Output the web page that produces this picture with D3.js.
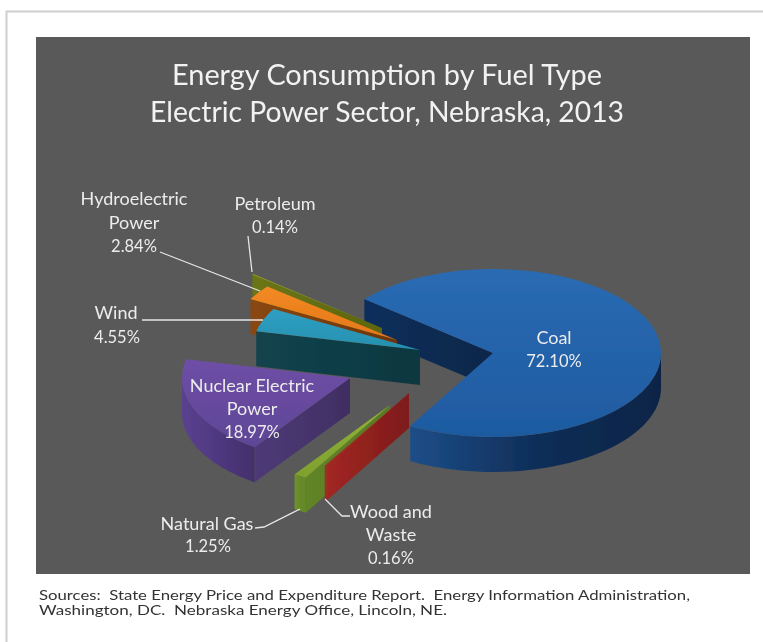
<!DOCTYPE html>
<html>
<head>
<meta charset="utf-8">
<script src="https://cdn.jsdelivr.net/npm/d3@7"></script>
<style>
  body { margin: 0; background: #fff; }
  text { font-family: Lato, "Open Sans", sans-serif; white-space: pre; }
</style>
</head>
<body>
<svg id="chart" width="763" height="642"></svg>
<script>
// data
const categories = ["Coal", "Wood and Waste", "Natural Gas", "Nuclear Electric Power", "Wind", "Hydroelectric Power", "Petroleum"];
const shares = [72.10, 0.16, 1.25, 18.97, 4.55, 2.84, 0.14];
const shareLabels = ["72.10%", "0.16%", "1.25%", "18.97%", "4.55%", "2.84%", "0.14%"];
const titleLines = ["Energy Consumption by Fuel Type", "Electric Power Sector, Nebraska, 2013"];
const sourceLines = [
  "Sources:  State Energy Price and Expenditure Report.  Energy Information Administration,",
  "Washington, DC.  Nebraska Energy Office, Lincoln, NE."
];

// layout of the fake 3d pie
const radius = 168, tilt = 0.5, depth = 35;
const pieX = 420, pieY = 360;
const firstAngle = -50 * Math.PI / 180;
// the picture doesn't explode the slices evenly, so each one has its own shift
const explodeX = [73, -11, -30, -70, 0, -23, -38];
const explodeY = [-7, 33, 45, 18, -10, -20, -32];
const topColors = [["#2a6bb3", "#1e5aa0"], ["#b32a25", "#a02622"], ["#8fb436", "#7fa02e"], ["#6e4fa6", "#5f4596"], ["#2f9fc4", "#2690ae"], ["#f28a22", "#e5761a"], ["#9aa822", "#87951f"]];
const wallColors = [["#1d4e88", "#0f2e58", "#0c2446"], ["#a52a24", "#a52a24", "#a52a24"], ["#6f942c", "#66892a", "#66892a"], ["#5a4190", "#4f3880", "#432f6a"], ["#123f48", "#123f48", "#123f48"], ["#7d3f0f", "#7d3f0f", "#7d3f0f"], ["#6b7514", "#6b7514", "#6b7514"]];
const faceColors = [["#0f2f5c", "#0c2749"], ["#a32622", "#7d1b1b"], ["#618428", "#587a24"], ["#4e3a78", "#3f2e62"], ["#12434d", "#0f3740"], ["#8a4712", "#6d350c"], ["#6b7514", "#5d6610"]];

const svg = d3.select("#chart");
const defs = svg.append("defs");
defs.append("filter").attr("id", "soft")
  .append("feGaussianBlur").attr("stdDeviation", 0.5);

// page frame and panel
svg.append("path").attr("d", "M763,11.5H6.5V642").attr("fill", "none").attr("stroke", "#cfcfcf").attr("stroke-width", 2);
svg.append("rect").attr("x", 36).attr("y", 37).attr("width", 714).attr("height", 537).attr("fill", "#595959");

const pie = d3.pie().sort(null).value(d => d).startAngle(firstAngle).endAngle(firstAngle + 2 * Math.PI);
const slices = pie(shares);
const topArc = d3.arc().innerRadius(0).outerRadius(radius);
const line = d3.line();
const pieLayer = svg.append("g").attr("filter", "url(#soft)");

function gradient(id, stops, horizontal) {
  const g = defs.append("linearGradient").attr("id", id)
    .attr("x1", 0).attr("y1", 0)
    .attr("x2", horizontal ? 1 : 0).attr("y2", horizontal ? 0 : 1);
  stops.forEach((c, i) => g.append("stop").attr("offset", i / (stops.length - 1)).attr("stop-color", c));
  return "url(#" + id + ")";
}

function rimPoint(i, angle, z) {
  return [pieX + explodeX[i] + radius * Math.sin(angle), pieY + explodeY[i] - radius * tilt * Math.cos(angle) + z];
}

function drawSlice(i) {
  const s = slices[i];
  const g = pieLayer.append("g").attr("class", "slice");
  const apexX = pieX + explodeX[i], apexY = pieY + explodeY[i];

  // cut face at the start angle, faces the viewer for every slice here
  const sp = rimPoint(i, s.startAngle, 0);
  g.append("path")
    .attr("d", line([[apexX, apexY], sp, [sp[0], sp[1] + depth], [apexX, apexY + depth]]) + "Z")
    .attr("fill", gradient("face" + i, faceColors[i], true));

  // outer wall, only the part turned toward the viewer
  const from = Math.max(s.startAngle, Math.PI / 2), to = Math.min(s.endAngle, 1.5 * Math.PI);
  if (to > from) {
    const steps = d3.range(0, 41).map(k => from + (to - from) * k / 40);
    const upper = steps.map(a => rimPoint(i, a, 0));
    const lower = steps.slice().reverse().map(a => rimPoint(i, a, depth));
    g.append("path")
      .attr("d", line(upper.concat(lower)) + "Z")
      .attr("fill", gradient("wall" + i, wallColors[i], true));
  }

  g.append("path")
    .attr("transform", "translate(" + apexX + "," + apexY + ") scale(1," + tilt + ")")
    .attr("d", topArc(s))
    .attr("fill", gradient("top" + i, topColors[i], false));
}

// coal first, its cut face sits behind the small slices
[0, 6, 5, 4, 3, 2, 1].forEach(drawSlice);

// leader lines
const leaders = [
  [[248, 236], [252, 272]],
  [[160, 252], [260, 291]],
  [[142, 320], [263, 320]],
  [[255, 528], [264, 527], [300, 509]],
  [[350, 516], [342, 516], [325, 499]]
];
svg.append("g").selectAll("path").data(leaders).join("path")
  .attr("d", d => line(d))
  .attr("fill", "none")
  .attr("stroke", "#e6e6e6")
  .attr("stroke-width", 1.3);

// title, stretched a little to the width of the original
const titleWidths = [430, 474];
svg.append("g").selectAll("text").data(titleLines).join("text")
  .attr("x", 387).attr("y", (d, i) => 85 + i * 37)
  .attr("text-anchor", "middle")
  .attr("font-size", 28)
  .attr("textLength", (d, i) => titleWidths[i])
  .attr("lengthAdjust", "spacingAndGlyphs")
  .attr("fill", "#f2f2f2")
  .text(d => d);

// slice labels, one row per line of text
const labelRows = [
  { x: 134, y: 205, t: "Hydroelectric", s: 18 }, { x: 134, y: 229, t: "Power", s: 18 }, { x: 134, y: 252, t: shareLabels[5], s: 16.5 },
  { x: 275, y: 210, t: categories[6], s: 18 }, { x: 275, y: 233, t: shareLabels[6], s: 16.5 },
  { x: 116, y: 319, t: categories[4], s: 18 }, { x: 117, y: 343, t: shareLabels[4], s: 16.5 },
  { x: 252, y: 392, t: "Nuclear Electric", s: 18 }, { x: 252, y: 415, t: "Power", s: 18 }, { x: 252, y: 438, t: shareLabels[3], s: 16.5 },
  { x: 554, y: 344, t: categories[0], s: 18 }, { x: 554, y: 367, t: shareLabels[0], s: 16.5 },
  { x: 207, y: 530, t: categories[2], s: 18 }, { x: 208, y: 552, t: shareLabels[2], s: 16.5 },
  { x: 391, y: 518, t: "Wood and", s: 18 }, { x: 391, y: 541, t: "Waste", s: 18 }, { x: 391, y: 564, t: shareLabels[1], s: 16.5 }
];
svg.append("g").selectAll("text").data(labelRows).join("text")
  .attr("x", d => d.x).attr("y", d => d.y)
  .attr("text-anchor", "middle")
  .attr("font-size", d => d.s)
  .attr("fill", "#ececec")
  .text(d => d.t);

// source note
const sourceWidths = [651, 408];
svg.append("g").selectAll("text").data(sourceLines).join("text")
  .attr("x", 39).attr("y", (d, i) => 600 + i * 15)
  .attr("font-size", 13)
  .attr("textLength", (d, i) => sourceWidths[i])
  .attr("lengthAdjust", "spacingAndGlyphs")
  .attr("fill", "#333")
  .text(d => d);
</script>
</body>
</html>
